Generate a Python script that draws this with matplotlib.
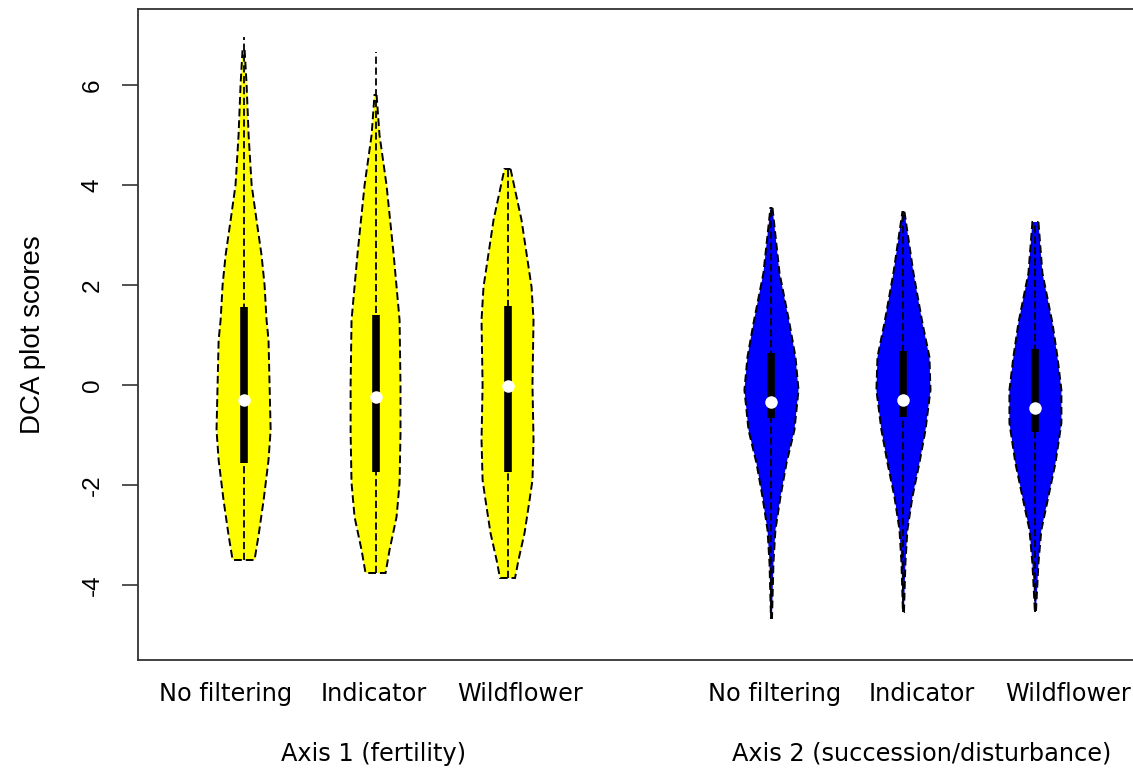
import numpy as np
import matplotlib
matplotlib.use("Agg")
import matplotlib.pyplot as plt

# violin positions and labels
positions = [1, 2, 3, 5, 6, 7]
filter_labels = ["No filtering", "Indicator", "Wildflower",
                 "No filtering", "Indicator", "Wildflower"]
label_x = [0.864, 1.985, 3.098, 5.02, 6.14, 7.25]
group_labels = ["Axis 1 (fertility)", "Axis 2 (succession/disturbance)"]
fill_colors = ["yellow", "yellow", "yellow", "blue", "blue", "blue"]

# summary stats
y_min = [-3.5, -3.76, -3.86, -4.66, -4.54, -4.54]
y_max = [6.96, 6.66, 4.32, 3.54, 3.46, 3.26]
q1 = [-1.56, -1.73, -1.73, -0.66, -0.63, -0.94]
q3 = [1.56, 1.4, 1.58, 0.64, 0.68, 0.72]
medians = [-0.3, -0.23, -0.02, -0.33, -0.29, -0.46]

# density outlines: y levels and half-widths (x-axis units)
dens_y = [
    [6.7, 6.0, 5.0, 4.0, 3.3, 2.6, 2.0, 1.3, 0.9, 0.0, -0.9, -1.5, -2.3, -3.0, -3.5],
    [5.8, 5.0, 4.0, 2.64, 1.3, 0.0, -0.96, -1.96, -2.64, -3.3, -3.76],
    [4.32, 3.3, 1.96, 1.3, 0.0, -1.1, -1.9, -2.3, -2.96, -3.5, -3.86],
    [3.54, 2.24, 1.24, 0.56, -0.1, -0.9, -1.56, -2.24, -2.9, -3.56, -4.66],
    [3.46, 2.24, 1.24, 0.56, -0.1, -0.9, -1.56, -2.24, -2.9, -3.56, -4.54],
    [3.26, 2.24, 1.24, 0.56, -0.1, -0.76, -1.56, -2.24, -2.9, -3.56, -4.54],
]
dens_w = [
    [0.008, 0.023, 0.038, 0.061, 0.098, 0.136, 0.159, 0.174, 0.189, 0.197, 0.205, 0.189, 0.152, 0.114, 0.083],
    [0.008, 0.030, 0.083, 0.136, 0.182, 0.189, 0.189, 0.182, 0.159, 0.106, 0.076],
    [0.023, 0.106, 0.182, 0.197, 0.189, 0.197, 0.189, 0.167, 0.129, 0.083, 0.057],
    [0.008, 0.061, 0.136, 0.182, 0.205, 0.174, 0.114, 0.068, 0.030, 0.015, 0.004],
    [0.008, 0.076, 0.144, 0.197, 0.205, 0.167, 0.121, 0.068, 0.030, 0.015, 0.004],
    [0.023, 0.053, 0.129, 0.167, 0.197, 0.197, 0.152, 0.098, 0.045, 0.023, 0.004],
]

fig = plt.figure(figsize=(11.33, 7.71), dpi=100)
ax = fig.add_axes([138 / 1133, 111 / 771, (1141 - 138) / 1133, (660 - 9) / 771])

dash = (0, (4, 2))
for i, p in enumerate(positions):
    yy = np.array(dens_y[i])
    ww = np.array(dens_w[i])
    px = np.concatenate([p + ww, (p - ww)[::-1]])
    py = np.concatenate([yy, yy[::-1]])
    ax.fill(px, py, facecolor=fill_colors[i], edgecolor="black",
            linestyle=dash, linewidth=1.4, zorder=2)
    ax.vlines(p, y_min[i], y_max[i], colors="black", linestyles=dash,
              linewidth=1.3, zorder=3)
    ax.vlines(p, q1[i], q3[i], colors="black", linewidth=5.5, zorder=4)
    ax.plot(p, medians[i], "o", color="white", markersize=9,
            markeredgewidth=0, zorder=5)

ax.set_xlim(0.2, 7.8)
ax.set_ylim(-5.5, 7.52)

ax.set_yticks([-4, -2, 0, 2, 4, 6])
ax.set_yticklabels(["-4", "-2", "0", "2", "4", "6"], rotation=90,
                   va="center", family="Liberation Sans", fontsize=17.5)
ax.tick_params(axis="y", length=11.5, width=1.2, pad=13, color="#333333")

ax.set_xticks(label_x)
ax.set_xticklabels(filter_labels, family="DejaVu Sans", fontsize=17.3)
ax.tick_params(axis="x", length=0, pad=16)

for s in ax.spines.values():
    s.set_linewidth(1.3)
    s.set_color("#333333")

fig.text(33 / 1133, 1 - 335 / 771, "DCA plot scores", rotation=90,
         ha="center", va="center", family="Liberation Sans", fontsize=20)
fig.text(374 / 1133, 1 - 754 / 771, group_labels[0], ha="center",
         va="center", family="DejaVu Sans", fontsize=17.3)
fig.text(922 / 1133, 1 - 754 / 771, group_labels[1], ha="center",
         va="center", family="DejaVu Sans", fontsize=17.3)

fig.savefig("out.png", dpi=100)
